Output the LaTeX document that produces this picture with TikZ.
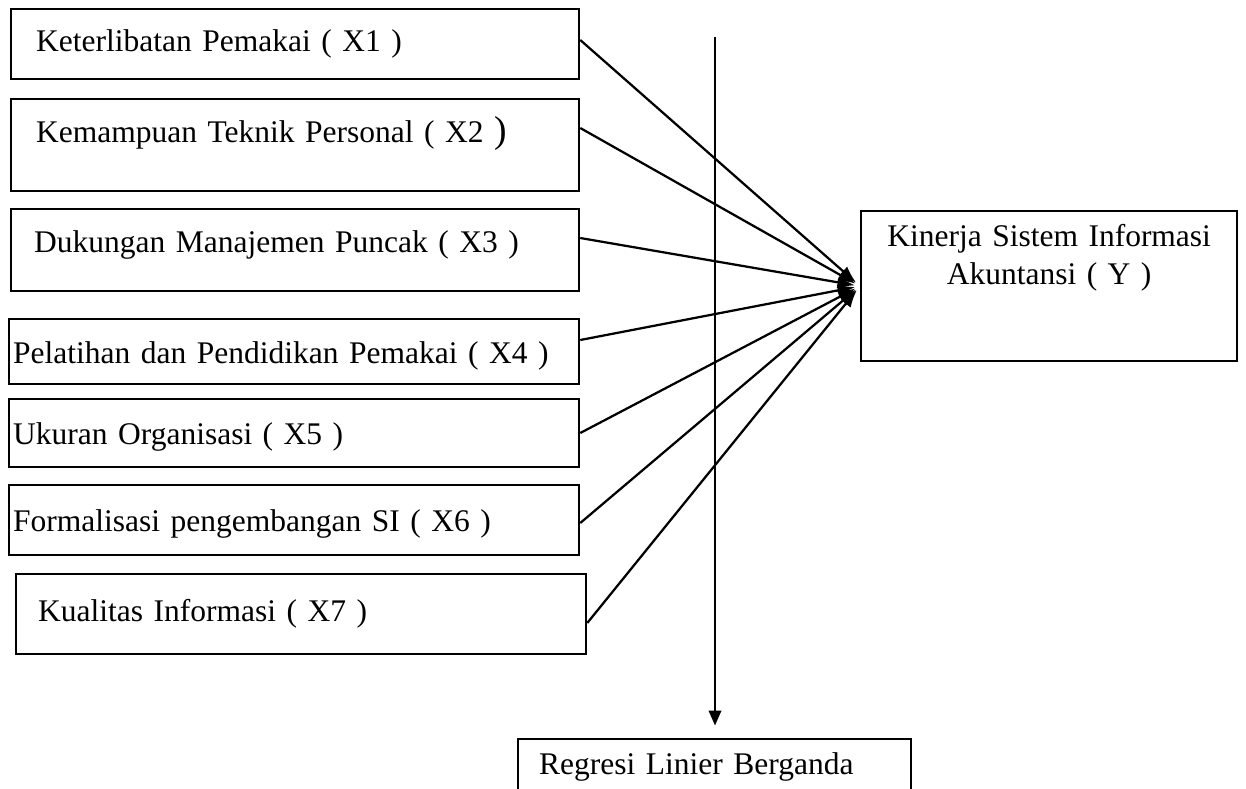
\documentclass[tikz,border=0pt]{standalone}
\usepackage{fontspec}
\setmainfont{Liberation Serif}
\usetikzlibrary{arrows.meta}

\begin{document}
\begin{tikzpicture}[x=0.4pt,y=-0.4pt]
\tikzset{
	varbox/.style={draw, line width=0.9pt, anchor=north west, inner ysep=0pt, align=left,
		font=\fontsize{12.6}{15.2}\selectfont},
	hubline/.style={line width=0.9pt, -{Latex[length=7pt,width=5pt]}, shorten >=2pt}
}
\useasboundingbox (0,0) rectangle (1246,788);

% variabel bebas
\node[varbox, inner xsep=10pt, text width=207.2pt, text height=16.8pt, text depth=11.2pt] (x1) at (10,8) {Keterlibatan Pemakai ( X1 )};
\node[varbox, inner xsep=10pt, text width=207.2pt, text height=17.2pt, text depth=19.6pt] (x2) at (10,98) {Kemampuan Teknik Personal ( X2 {\fontsize{15}{15}\selectfont )}};
\node[varbox, inner xsep=9.2pt, text width=208.8pt, text height=17.2pt, text depth=15.6pt] (x3) at (10,208) {Dukungan Manajemen Puncak ( X3 )};
\node[varbox, inner xsep=1.6pt, text width=224.8pt, text height=17.6pt, text depth=8.4pt] (x4) at (8,318) {Pelatihan dan Pendidikan Pemakai ( X4 )};
\node[varbox, inner xsep=1.6pt, text width=224.8pt, text height=18pt, text depth=9.2pt] (x5) at (8,398) {Ukuran Organisasi ( X5 )};
\node[varbox, inner xsep=1.6pt, text width=224.8pt, text height=18.4pt, text depth=9.6pt] (x6) at (8,484) {Formalisasi pengembangan SI ( X6 )};
\node[varbox, inner xsep=8.8pt, text width=210.4pt, text height=18.8pt, text depth=13.2pt] (x7) at (15,573) {Kualitas Informasi ( X7 )};

% variabel terikat
\node[varbox, align=center, inner xsep=4pt, text width=142.4pt, text height=14pt, text depth=46pt] (ky) at (860,210) {Kinerja Sistem Informasi\\Akuntansi ( Y )};

% alat analisis
\node[varbox, inner xsep=8.4pt, text width=140.4pt, text height=14pt, text depth=22.8pt] (reg) at (517,738) {Regresi Linier Berganda};

\draw[hubline] (x1.east |- 0,40) -- (ky.west);
\draw[hubline] (x2.east |- 0,128) -- (ky.west);
\draw[hubline] (x3.east |- 0,238) -- (ky.west);
\draw[hubline] (x4.east |- 0,340) -- (ky.west);
\draw[hubline] (x5.east |- 0,433) -- (ky.west);
\draw[hubline] (x6.east |- 0,523) -- (ky.west);
\draw[hubline] (x7.east |- 0,623) -- (ky.west);

\coordinate (top) at (715,37);
\draw[line width=0.9pt, -{Triangle[length=6pt,width=5pt]}, shorten >=5pt] (top) -- (top |- reg.north);
\end{tikzpicture}
\end{document}
